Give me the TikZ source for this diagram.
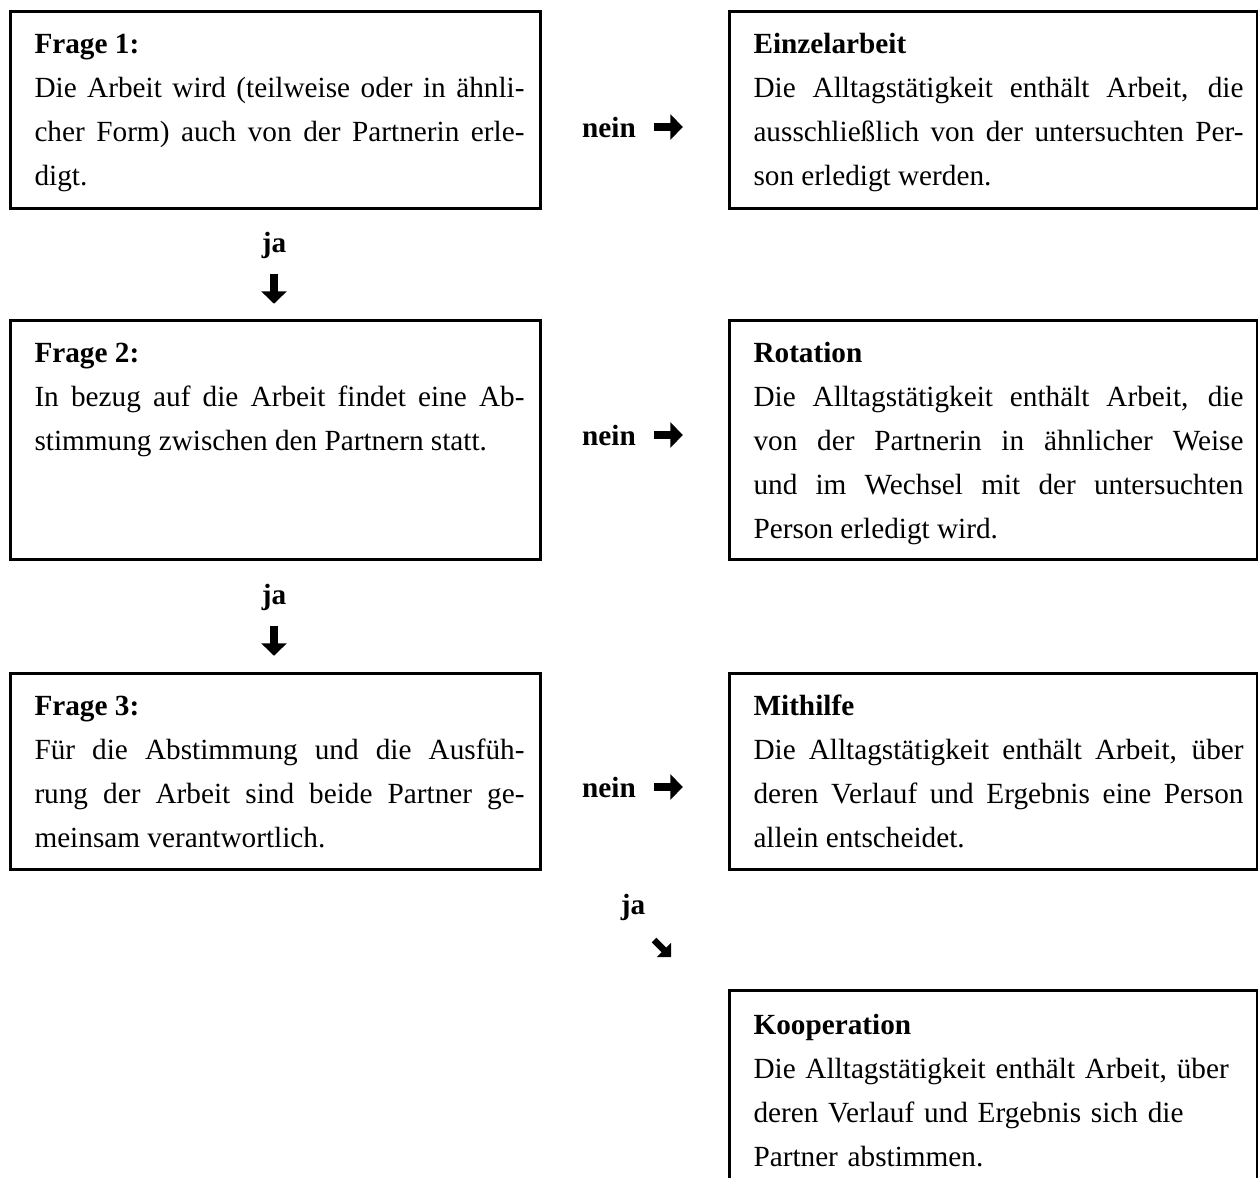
\documentclass[tikz,border=0pt]{standalone}
\usepackage{fontspec}
\setmainfont{Liberation Serif}
\usetikzlibrary{positioning,arrows.meta}
\tikzset{
  qbox/.style={draw, line width=1.2pt, anchor=north west, inner sep=0pt},
  qtext/.style={anchor=north west, inner sep=0pt, text width=196pt, align=justify,
    font=\fontsize{11.7pt}{17.6pt}\selectfont},
  lbl/.style={inner sep=0pt, font=\fontsize{11.7pt}{14.4pt}\selectfont\bfseries},
  pfeil/.style={line width=3.4pt, -{Triangle[width=10pt,length=5pt]}},
  spfeil/.style={line width=2.6pt, -{Triangle[width=8pt,length=4pt]}}
}
\begin{document}
\begin{tikzpicture}[x=0.4pt,y=-0.4pt]
\useasboundingbox (0,0) rectangle (1258,1178);
\clip (0,0) rectangle (1258,1178);
% Fragen links
\node[qbox, minimum width=212pt, minimum height=78.8pt] (f1) at (9,10) {};
\node[qbox, minimum width=212pt, minimum height=95.6pt] (f2) at (9,319) {};
\node[qbox, minimum width=212pt, minimum height=78.4pt] (f3) at (9,672) {};
% Formen rechts
\node[qbox, minimum width=211.2pt, minimum height=78.8pt] (einzel) at (728,10) {};
\node[qbox, minimum width=211.2pt, minimum height=95.6pt] (rot) at (728,319) {};
\node[qbox, minimum width=211.2pt, minimum height=78.4pt] (mit) at (728,672) {};
\node[qbox, minimum width=211.2pt, minimum height=84pt] (koop) at (728,989) {};

\node[qtext, below right=4.9pt and 10pt of f1.north west] (f1t)
  {\strut\textbf{Frage 1:}\\ Die Arbeit wird (teilweise oder in ähnli-\linebreak
   cher Form) auch von der Partnerin erle-\linebreak digt.};
\node[qtext, below right=4.9pt and 10pt of f2.north west] (f2t)
  {\strut\textbf{Frage 2:}\\ In bezug auf die Arbeit findet eine Ab-\linebreak
   stimmung zwischen den Partnern statt.};
\node[qtext, below right=4.9pt and 10pt of f3.north west] (f3t)
  {\strut\textbf{Frage 3:}\\ Für die Abstimmung und die Ausfüh-\linebreak
   rung der Arbeit sind beide Partner ge-\linebreak meinsam verantwortlich.};
\node[qtext, below right=4.9pt and 10pt of einzel.north west] (einzelt)
  {\strut\textbf{Einzelarbeit}\\ Die Alltagstätigkeit enthält Arbeit, die\linebreak
   ausschließlich von der untersuchten Per-\linebreak son erledigt werden.};
\node[qtext, below right=4.9pt and 10pt of rot.north west] (rott)
  {\strut\textbf{Rotation}\\ Die Alltagstätigkeit enthält Arbeit, die\linebreak
   von der Partnerin in ähnlicher Weise\linebreak
   und im Wechsel mit der untersuchten\linebreak Person erledigt wird.};
\node[qtext, below right=4.9pt and 10pt of mit.north west] (mitt)
  {\strut\textbf{Mithilfe}\\ Die Alltagstätigkeit enthält Arbeit, über\linebreak
   deren Verlauf und Ergebnis eine Person\linebreak allein entscheidet.};
\node[qtext, align=left, below right=5.7pt and 10pt of koop.north west] (koopt)
  {\strut\textbf{Kooperation}\\ Die Alltagstätigkeit enthält Arbeit, über\\
   deren Verlauf und Ergebnis sich die\\ Partner abstimmen.};

% nein
\node[lbl] (n1) at (609,127) {nein};
\node[lbl] (n2) at (609,435) {nein};
\node[lbl] (n3) at (609,787) {nein};
\foreach \n in {n1,n2,n3}
  \draw[pfeil] ([xshift=7.2pt]\n.east) -- ([xshift=18.6pt]\n.east);

% ja
\node[lbl] (j1) at (274,245) {ja};
\node[lbl] (j2) at (274,597) {ja};
\node[lbl] (j3) at (633,907) {ja};
\coordinate[below=6pt of j1] (d1a);
\coordinate[below=18pt of j1] (d1b);
\coordinate[below=6pt of j2] (d2a);
\coordinate[below=18pt of j2] (d2b);
\draw[pfeil] (d1a) -- (d1b);
\draw[pfeil] (d2a) -- (d2b);
\coordinate (d3a) at (654,940);
\coordinate (d3b) at (671,957);
\draw[spfeil] (d3a) -- (d3b);
\end{tikzpicture}
\end{document}
